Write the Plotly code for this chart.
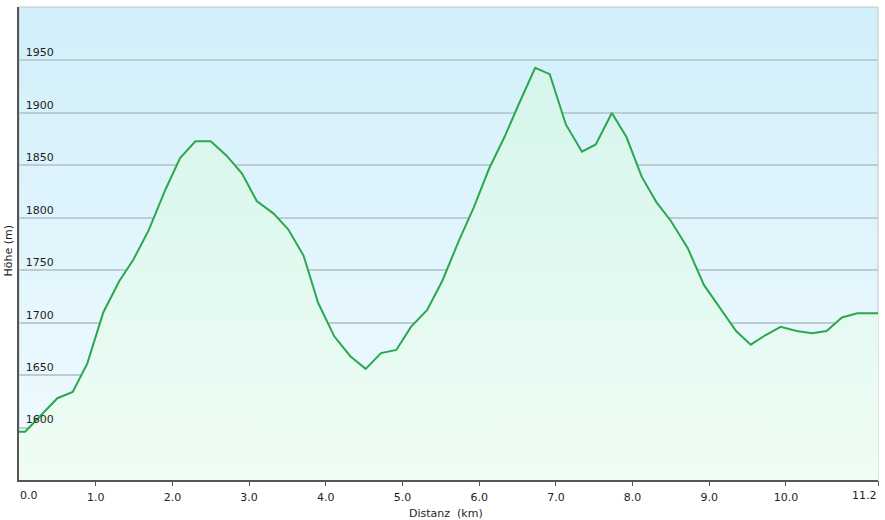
import base64
import plotly.graph_objects as go

distanz_km = [0.0, 0.08, 0.50, 0.70, 0.89, 1.10, 1.31, 1.49, 1.69, 1.91, 2.10, 2.30, 2.50,
              2.71, 2.91, 3.10, 3.32, 3.51, 3.71, 3.90, 4.11, 4.32, 4.52, 4.72, 4.92, 5.11,
              5.32, 5.52, 5.74, 5.93, 6.13, 6.33, 6.52, 6.73, 6.92, 7.13, 7.34, 7.52, 7.73,
              7.92, 8.12, 8.31, 8.50, 8.72, 8.93, 9.14, 9.35, 9.54, 9.73, 9.93, 10.14, 10.34,
              10.53, 10.73, 10.93, 11.2]
hoehe_m = [1596, 1596, 1628, 1634, 1661, 1710, 1740, 1760, 1788, 1827, 1857, 1873, 1873,
           1859, 1842, 1816, 1804, 1789, 1764, 1719, 1687, 1668, 1656, 1671, 1674, 1696,
           1712, 1740, 1779, 1810, 1847, 1877, 1909, 1943, 1937, 1889, 1863, 1870, 1900,
           1877, 1839, 1815, 1797, 1771, 1736, 1714, 1692, 1679, 1688, 1696, 1692, 1690,
           1692, 1705, 1709, 1709]

x_tickvals = [0, 1, 2, 3, 4, 5, 6, 7, 8, 9, 10, 11.2]
x_ticktext = ["0.0", "1.0", "2.0", "3.0", "4.0", "5.0", "6.0", "7.0", "8.0", "9.0", "10.0", "11.2"]
y_tickvals = [1600, 1650, 1700, 1750, 1800, 1850, 1900, 1950]
x_title = "Distanz  (km)"
y_title = "Höhe (m)"
x_range = [0, 11.2]
y_range = [1550, 2001]

FONT = "DejaVu Sans, Verdana, sans-serif"
TXT = "#1e1e1e"

svg = ('<svg xmlns="http://www.w3.org/2000/svg" width="100" height="100" preserveAspectRatio="none">'
       '<defs><linearGradient id="g" x1="0" y1="0" x2="0" y2="1">'
       '<stop offset="0" stop-color="rgb(209,239,250)"/>'
       '<stop offset="1" stop-color="rgb(241,251,255)"/>'
       '</linearGradient></defs><rect width="100" height="100" fill="url(#g)"/></svg>')
bg_src = "data:image/svg+xml;base64," + base64.b64encode(svg.encode()).decode()

# inner tick labels are drawn by the axis; the two end labels are aligned inward like the reference
inner_text = [t if 0 < i < len(x_ticktext) - 1 else "" for i, t in enumerate(x_ticktext)]

fig = go.Figure()
fig.add_trace(go.Scatter(
    x=distanz_km, y=hoehe_m, mode="lines",
    line=dict(color="#2ba84e", width=2),
    fill="tozeroy",
    fillgradient=dict(type="vertical", start=1550, stop=1950,
                      colorscale=[[0, "rgb(239,253,244)"], [1, "rgb(213,245,236)"]]),
    hoverinfo="skip", showlegend=False,
))
fig.add_trace(go.Scatter(x=x_range, y=[y_range[0], y_range[0]], xaxis="x2", mode="lines",
                         line=dict(width=0, color="rgba(0,0,0,0)"), hoverinfo="skip",
                         showlegend=False))

fig.add_layout_image(dict(source=bg_src, xref="paper", yref="paper", x=0, y=1,
                          sizex=1, sizey=1, sizing="stretch", layer="below"))

fig.update_layout(
    width=885, height=520,
    margin=dict(l=19, r=7, t=7, b=40),
    paper_bgcolor="white", plot_bgcolor="rgba(0,0,0,0)",
    font=dict(family=FONT, size=11, color=TXT),
    showlegend=False,
    xaxis=dict(range=x_range, showgrid=False, zeroline=False, automargin=False,
               showline=True, linecolor="#555", linewidth=2, showticklabels=False, ticks=""),
    xaxis2=dict(range=x_range, overlaying="x", anchor="free", position=0, side="bottom",
                tickvals=x_tickvals, ticktext=inner_text,
                showgrid=False, zeroline=False, automargin=False, showline=False,
                ticks="outside", ticklen=5, tickcolor="#555", tickwidth=1,
                ticklabelstandoff=2, ticklabeloverflow="allow",
                tickfont=dict(family=FONT, size=11, color=TXT)),
    yaxis=dict(range=y_range, tickvals=y_tickvals,
               showgrid=True, gridcolor="#bccdd2", gridwidth=1.5,
               zeroline=False, showline=True, linecolor="#555", linewidth=2, automargin=False,
               ticks="", ticklabelposition="inside", ticklabelstandoff=6, ticklabelshift=-8,
               tickfont=dict(family=FONT, size=11, color=TXT)),
)
fig.add_annotation(text=x_ticktext[0], xref="x", yref="paper", x=x_tickvals[0], y=0,
                   xanchor="left", yanchor="middle", xshift=-1, yshift=-15,
                   showarrow=False, font=dict(family=FONT, size=11, color=TXT))
fig.add_annotation(text=x_ticktext[-1], xref="x", yref="paper", x=x_tickvals[-1], y=0,
                   xanchor="right", yanchor="middle", xshift=1, yshift=-15,
                   showarrow=False, font=dict(family=FONT, size=11, color=TXT))
fig.add_annotation(text=x_title, xref="paper", yref="paper", x=0.5, y=0,
                   xanchor="center", yanchor="middle", xshift=-3, yshift=-33,
                   showarrow=False, font=dict(family=FONT, size=11, color=TXT))
fig.add_annotation(text=y_title, xref="paper", yref="paper", x=0, y=0.5,
                   xanchor="center", yanchor="middle", xshift=-11, yshift=-7,
                   textangle=-90, showarrow=False, font=dict(family=FONT, size=11, color=TXT))
fig.add_shape(type="rect", xref="paper", yref="paper", x0=0, y0=0, x1=1, y1=1,
              line=dict(color="#bfc6c9", width=1), fillcolor="rgba(0,0,0,0)", layer="below")

fig.write_html("out.html", config={"displayModeBar": False},
               post_script="document.body.style.margin='0';document.body.style.padding='0';")
